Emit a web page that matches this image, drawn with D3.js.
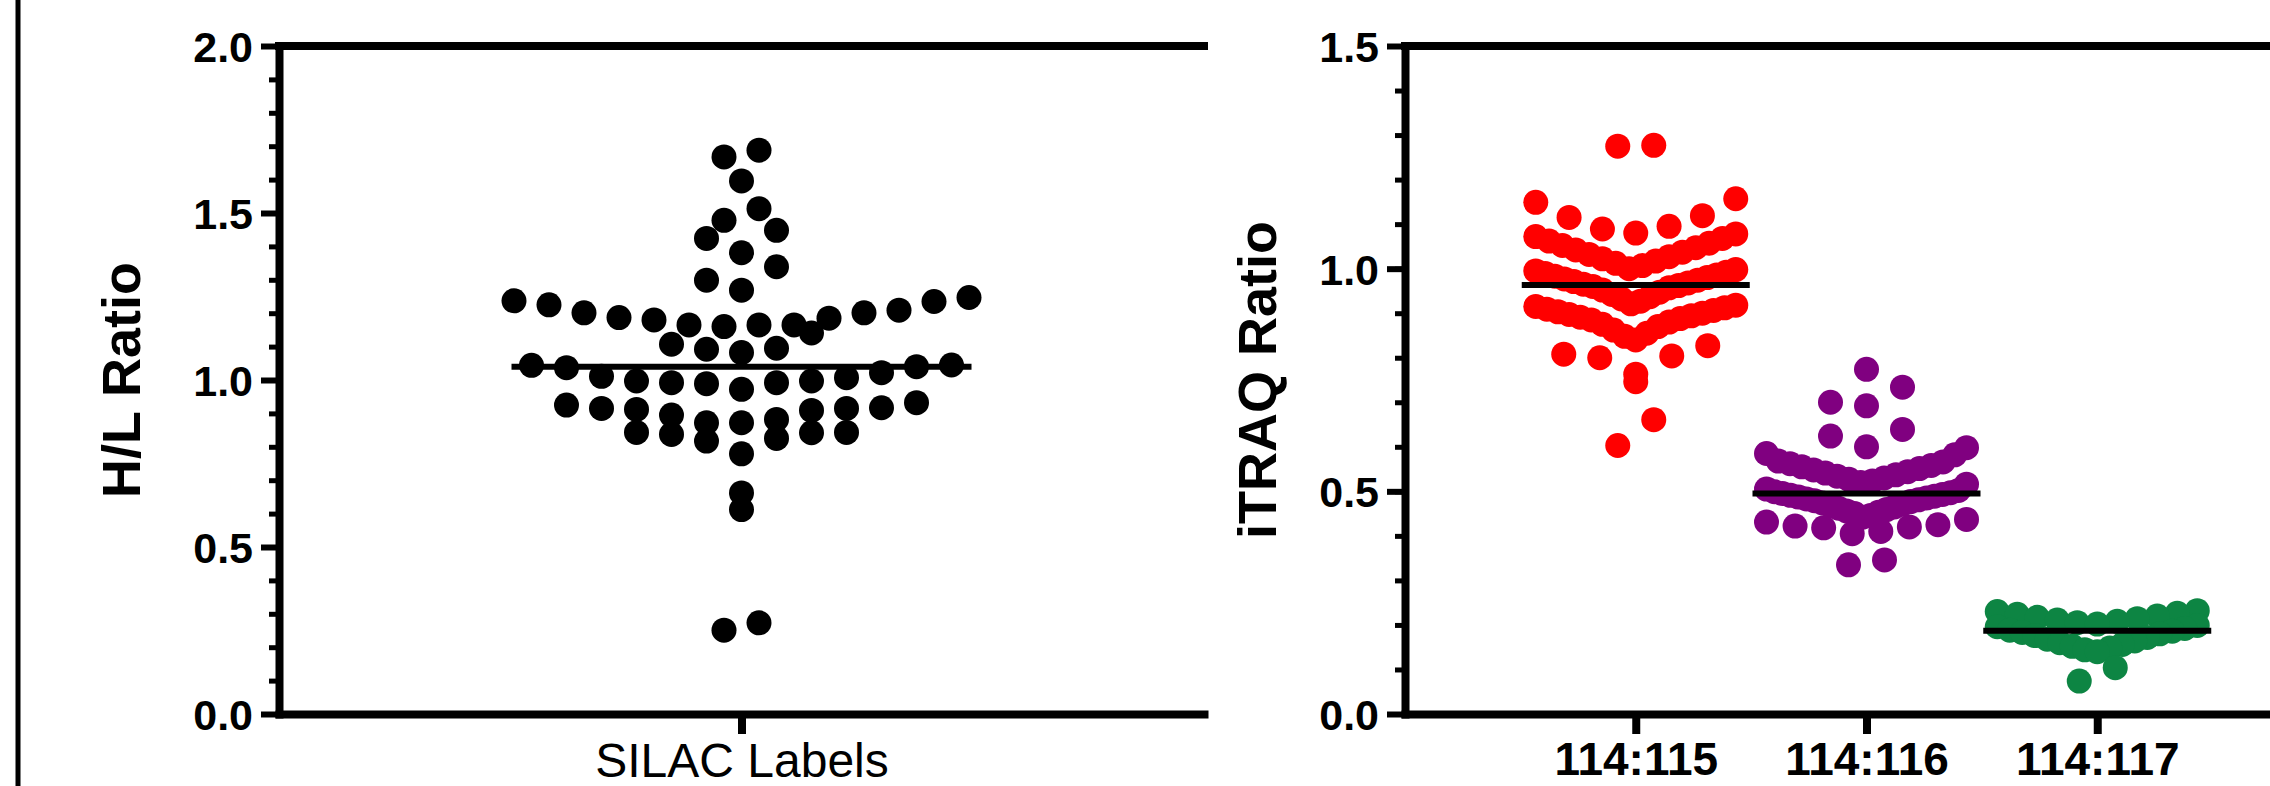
<!DOCTYPE html>
<html>
<head>
<meta charset="utf-8">
<script src="https://cdn.jsdelivr.net/npm/d3@7"></script>
<style>
  html, body { margin: 0; padding: 0; background: #fff; overflow: hidden; }
  svg { display: block; }
</style>
</head>
<body>
<div id="chart"></div>
<script>
// --- data ---

// left panel: SILAC heavy/light ratios
const silacCategory = ["SILAC Labels"];
const silacValues = [
  1.688, 1.668, 1.596, 1.513, 1.478, 1.448, 1.424, 1.381, 1.339, 1.299, 1.269,
  1.237, 1.225, 1.201, 1.187, 1.180, 1.165, 1.160, 1.141, 1.165, 1.165, 1.185, 1.201, 1.209, 1.235, 1.247,
  1.107, 1.092, 1.082, 1.095,
  1.044, 1.040, 1.022, 1.007, 1.011, 1.037, 1.045,
  0.997, 0.992, 0.989, 0.972, 0.992, 0.997,
  0.932, 0.917, 0.912, 0.909, 0.895, 0.915, 0.915, 0.925,
  0.872, 0.843, 0.843, 0.825, 0.817, 0.837, 0.842, 0.872, 0.882,
  0.779, 0.662, 0.612, 0.251, 0.273
];
const silacTicks = [0, 0.5, 1.0, 1.5, 2.0];

// right panel: iTRAQ reporter ratios
const itraqCategories = ["114:115", "114:116", "114:117"];
const itraq115 = [
  1.277, 1.275, 1.157, 1.149, 1.119, 1.115, 1.095, 1.089,
  1.080, 1.078, 1.072, 1.068, 1.062, 1.057, 1.052, 1.047, 1.042, 1.037, 1.032, 1.027, 1.022, 1.017, 1.012, 1.007,
  1.000, 0.998, 0.995, 0.992, 0.989, 0.986, 0.983, 0.980, 0.977, 0.974, 0.971, 0.968, 0.965, 0.962, 0.960, 0.957,
  0.952, 0.947, 0.942, 0.937, 0.932, 0.927,
  0.921, 0.918, 0.915, 0.912, 0.909, 0.906, 0.903, 0.900, 0.897, 0.894, 0.891, 0.888, 0.885, 0.880, 0.875, 0.870,
  0.862, 0.855, 0.848, 0.840,
  0.827, 0.808, 0.804, 0.800, 0.763, 0.746, 0.661, 0.603
];
const itraq116 = [
  0.774, 0.734, 0.700, 0.692, 0.639, 0.624,
  0.600, 0.598, 0.585, 0.582, 0.568, 0.566,
  0.562, 0.558, 0.555, 0.551, 0.548, 0.544, 0.541, 0.537, 0.534, 0.530, 0.527, 0.523, 0.520, 0.516,
  0.505, 0.502, 0.499, 0.497, 0.495, 0.493, 0.491, 0.489, 0.487, 0.485, 0.483, 0.481, 0.479, 0.477,
  0.474, 0.471, 0.468, 0.465, 0.462, 0.459, 0.456, 0.453, 0.450, 0.446, 0.442, 0.437, 0.431, 0.425, 0.422, 0.420,
  0.418, 0.410, 0.405,
  0.346, 0.335
];
const itraq117 = [
  0.232, 0.230, 0.226, 0.224,
  0.220, 0.217, 0.214, 0.211, 0.208, 0.205, 0.202, 0.199, 0.196, 0.192,
  0.188, 0.186, 0.183, 0.180, 0.176, 0.172, 0.168, 0.164, 0.160, 0.156, 0.152, 0.148, 0.144, 0.140,
  0.104, 0.074
];
const itraqSeries = [itraq115, itraq116, itraq117];
const itraqColors = ["#ff0000", "#800080", "#0d8543"];
const itraqTicks = [0, 0.5, 1.0, 1.5];

// --- layout ---
const W = 2270, H = 786;
const FONT = '"Liberation Sans", Arial, Helvetica, sans-serif';
const AXIS_W = 8;
const DOT_R = 12.5;

const svg = d3.select("#chart").append("svg")
  .attr("width", W)
  .attr("height", H)
  .style("background", "#fff");

// thin border on the far left of the figure
svg.append("line")
  .attr("x1", 18).attr("x2", 18)
  .attr("y1", 0).attr("y2", H)
  .attr("stroke", "#000").attr("stroke-width", 5);

// Prism-like column scatter: points binned into rows, each row spread
// symmetrically, lowest value in the middle
function rowOffsets(values, binSize, spacing, maxHalf) {
  const rows = d3.group(values.map((v, i) => ({ v, i })), d => Math.round(d.v / binSize));
  const off = new Array(values.length).fill(0);
  for (const row of rows.values()) {
    const pts = row.slice().sort((a, b) => a.v - b.v);
    const n = pts.length;
    const step = n > 1 ? Math.min(spacing, 2 * maxHalf / (n - 1)) : 0;
    const slots = d3.range(n).map(k => k - (n - 1) / 2)
      .sort((a, b) => Math.abs(a) - Math.abs(b) || a - b);
    pts.forEach((p, k) => { off[p.i] = slots[k] * step; });
  }
  return off;
}

function drawFrame(g, x, y, majorTicks, minorStep, xLabelFont) {
  const [x0, x1] = x.range();
  const [yb, yt] = y.range();

  // minor ticks
  g.append("g")
    .attr("transform", `translate(${x0},0)`)
    .call(d3.axisLeft(y)
      .tickValues(d3.range(0, y.domain()[1] + 1e-9, minorStep))
      .tickSize(10).tickSizeOuter(0).tickFormat(""))
    .call(a => a.select(".domain").remove())
    .call(a => a.selectAll(".tick line").attr("stroke", "#000").attr("stroke-width", 5));

  // major ticks + labels
  g.append("g")
    .attr("transform", `translate(${x0},0)`)
    .call(d3.axisLeft(y)
      .tickValues(majorTicks)
      .tickSize(18).tickSizeOuter(0).tickPadding(8)
      .tickFormat(d3.format(".1f")))
    .call(a => a.select(".domain")
      .attr("stroke", "#000").attr("stroke-width", AXIS_W).attr("stroke-linecap", "square"))
    .call(a => a.selectAll(".tick line").attr("stroke", "#000").attr("stroke-width", 6))
    .call(a => a.selectAll(".tick text")
      .attr("font-family", FONT).attr("font-size", 43).attr("font-weight", "bold")
      .attr("fill", "#000").attr("dy", "0.36em"));

  // top line
  g.append("line")
    .attr("x1", x0).attr("x2", x1)
    .attr("y1", yt).attr("y2", yt)
    .attr("stroke", "#000").attr("stroke-width", AXIS_W).attr("stroke-linecap", "square");

  // bottom axis
  g.append("g")
    .attr("transform", `translate(0,${yb})`)
    .call(d3.axisBottom(x).tickSize(20).tickSizeOuter(0))
    .call(a => a.select(".domain")
      .attr("stroke", "#000").attr("stroke-width", AXIS_W).attr("stroke-linecap", "square"))
    .call(a => a.selectAll(".tick line").attr("stroke", "#000").attr("stroke-width", 8))
    .call(a => a.selectAll(".tick text")
      .attr("font-family", FONT).attr("font-size", xLabelFont.size)
      .attr("font-weight", xLabelFont.weight).attr("fill", "#000")
      .attr("y", xLabelFont.y).attr("dy", "0.72em"));
}

function yTitle(g, text, xPos, y) {
  const [yb, yt] = y.range();
  g.append("text")
    .attr("transform", `translate(${xPos},${(yb + yt) / 2}) rotate(-90)`)
    .attr("text-anchor", "middle")
    .attr("font-family", FONT)
    .attr("font-size", 54)
    .attr("font-weight", "bold")
    .attr("fill", "#000")
    .text(text);
}

// --- left panel ---
const yL = d3.scaleLinear().domain([0, 2]).range([714, 46]);
const xL = d3.scalePoint().domain(silacCategory).range([279, 1204]).padding(0.5);
const gL = svg.append("g");

const offL = rowOffsets(silacValues, 0.1, 35, 230);
gL.append("g").selectAll("circle")
  .data(silacValues)
  .join("circle")
  .attr("cx", (d, i) => xL(silacCategory[0]) + offL[i])
  .attr("cy", d => yL(d))
  .attr("r", DOT_R)
  .attr("fill", "#000");

const medL = d3.median(silacValues);
gL.append("line")
  .attr("x1", xL(silacCategory[0]) - 230).attr("x2", xL(silacCategory[0]) + 230)
  .attr("y1", yL(medL)).attr("y2", yL(medL))
  .attr("stroke", "#000").attr("stroke-width", 6);

drawFrame(gL, xL, yL, silacTicks, 0.1, { size: 48, weight: "normal", y: 28 });
yTitle(gL, "H/L Ratio", 140, yL);

// --- right panel ---
const yR = d3.scaleLinear().domain([0, 1.5]).range([714, 46]);
const xR = d3.scalePoint().domain(itraqCategories).range([1405, 2328]).padding(1);
const gR = svg.append("g");

itraqSeries.forEach((vals, s) => {
  const cx = xR(itraqCategories[s]);
  const off = rowOffsets(vals, 0.08, 36, 100);
  gR.append("g").selectAll("circle")
    .data(vals)
    .join("circle")
    .attr("cx", (d, i) => cx + off[i])
    .attr("cy", d => yR(d))
    .attr("r", DOT_R)
    .attr("fill", itraqColors[s]);
});

itraqSeries.forEach((vals, s) => {
  const cx = xR(itraqCategories[s]);
  const med = d3.median(vals);
  gR.append("line")
    .attr("x1", cx - 114).attr("x2", cx + 114)
    .attr("y1", yR(med)).attr("y2", yR(med))
    .attr("stroke", "#000").attr("stroke-width", 6);
});

drawFrame(gR, xR, yR, itraqTicks, 0.1, { size: 46, weight: "bold", y: 28 });
yTitle(gR, "iTRAQ Ratio", 1276, yR);
</script>
</body>
</html>
